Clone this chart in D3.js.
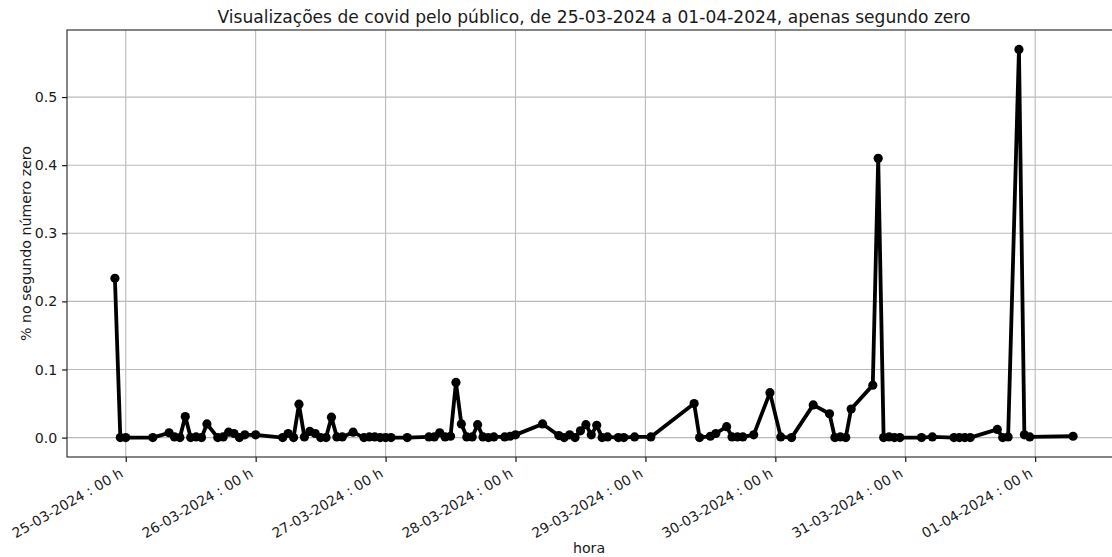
<!DOCTYPE html>
<html>
<head>
<meta charset="utf-8">
<script src="https://cdn.jsdelivr.net/npm/d3@7"></script>
<style>
  html, body { margin: 0; padding: 0; background: #fff; }
  svg { display: block; font-family: "DejaVu Sans", sans-serif; }
</style>
</head>
<body>
<svg id="chart" width="1112" height="557"></svg>
<script>
// Hourly timestamps (UTC) and share of views in second zero
const times = [
  "2024-03-24 22:00", "2024-03-24 23:00",
  "2024-03-25 00:00", "2024-03-25 05:00", "2024-03-25 08:00", "2024-03-25 09:00",
  "2024-03-25 10:00", "2024-03-25 11:00", "2024-03-25 12:00", "2024-03-25 13:00",
  "2024-03-25 14:00", "2024-03-25 15:00", "2024-03-25 17:00", "2024-03-25 18:00",
  "2024-03-25 19:00", "2024-03-25 20:00", "2024-03-25 21:00", "2024-03-25 22:00",
  "2024-03-26 00:00", "2024-03-26 05:00", "2024-03-26 06:00", "2024-03-26 07:00",
  "2024-03-26 08:00", "2024-03-26 09:00", "2024-03-26 10:00", "2024-03-26 11:00",
  "2024-03-26 12:00", "2024-03-26 13:00", "2024-03-26 14:00", "2024-03-26 15:00",
  "2024-03-26 16:00", "2024-03-26 18:00", "2024-03-26 20:00", "2024-03-26 21:00",
  "2024-03-26 22:00", "2024-03-26 23:00",
  "2024-03-27 00:00", "2024-03-27 01:00", "2024-03-27 04:00", "2024-03-27 08:00",
  "2024-03-27 09:00", "2024-03-27 10:00", "2024-03-27 11:00", "2024-03-27 12:00",
  "2024-03-27 13:00", "2024-03-27 14:00", "2024-03-27 15:00", "2024-03-27 16:00",
  "2024-03-27 17:00", "2024-03-27 18:00", "2024-03-27 19:00", "2024-03-27 20:00",
  "2024-03-27 22:00", "2024-03-27 23:00",
  "2024-03-28 00:00", "2024-03-28 05:00", "2024-03-28 08:00", "2024-03-28 09:00",
  "2024-03-28 10:00", "2024-03-28 11:00", "2024-03-28 12:00", "2024-03-28 13:00",
  "2024-03-28 14:00", "2024-03-28 15:00", "2024-03-28 16:00", "2024-03-28 17:00",
  "2024-03-28 19:00", "2024-03-28 20:00", "2024-03-28 22:00",
  "2024-03-29 01:00", "2024-03-29 09:00", "2024-03-29 10:00", "2024-03-29 12:00",
  "2024-03-29 13:00", "2024-03-29 15:00", "2024-03-29 16:00", "2024-03-29 17:00",
  "2024-03-29 18:00", "2024-03-29 20:00", "2024-03-29 23:00",
  "2024-03-30 01:00", "2024-03-30 03:00", "2024-03-30 07:00", "2024-03-30 10:00",
  "2024-03-30 11:00", "2024-03-30 12:00", "2024-03-30 13:00", "2024-03-30 14:00",
  "2024-03-30 18:00", "2024-03-30 19:00", "2024-03-30 20:00", "2024-03-30 21:00",
  "2024-03-30 22:00", "2024-03-30 23:00",
  "2024-03-31 03:00", "2024-03-31 05:00", "2024-03-31 09:00", "2024-03-31 10:00",
  "2024-03-31 11:00", "2024-03-31 12:00", "2024-03-31 17:00", "2024-03-31 18:00",
  "2024-03-31 19:00", "2024-03-31 21:00", "2024-03-31 22:00", "2024-03-31 23:00",
  "2024-04-01 07:00"
];

const shares = [
  0.234, 0.000,
  0.000, 0.000, 0.007, 0.001,
  0.000, 0.031, 0.000, 0.001,
  0.000, 0.020, 0.000, 0.001,
  0.008, 0.006, 0.000, 0.004,
  0.004, 0.000, 0.006, 0.000,
  0.049, 0.001, 0.009, 0.006,
  0.000, 0.000, 0.030, 0.001,
  0.001, 0.008, 0.000, 0.001,
  0.001, 0.000,
  0.000, 0.000, 0.000, 0.001,
  0.001, 0.007, 0.001, 0.002,
  0.081, 0.020, 0.001, 0.001,
  0.019, 0.001, 0.000, 0.001,
  0.001, 0.002,
  0.004, 0.020, 0.003, 0.000,
  0.004, 0.000, 0.010, 0.019,
  0.004, 0.018, 0.000, 0.001,
  0.000, 0.000, 0.001,
  0.001, 0.050, 0.000, 0.002,
  0.006, 0.016, 0.001, 0.001,
  0.001, 0.004, 0.066,
  0.001, 0.000, 0.048, 0.035,
  0.000, 0.001, 0.000, 0.042,
  0.077, 0.410, 0.000, 0.001,
  0.000, 0.000,
  0.000, 0.001, 0.000, 0.000,
  0.000, 0.000, 0.012, 0.000,
  0.001, 0.570, 0.004, 0.001,
  0.002
];

const yTickValues = [0.0, 0.1, 0.2, 0.3, 0.4, 0.5];

const titleText = "Visualizações de covid pelo público, de 25-03-2024 a 01-04-2024, apenas segundo zero";
const xLabelText = "hora";
const yLabelText = "% no segundo número zero";

const parse = d3.utcParse("%Y-%m-%d %H:%M");
const data = times.map((t, i) => ({ t: parse(t), v: shares[i] }));

const svg = d3.select("#chart");
const margin = { left: 67, top: 30, right: 1121, bottom: 457 };
const textColor = "#1a1a1a";

// Matplotlib-style 5% padding around the data extent
const tExt = d3.extent(data, d => d.t);
const tPad = (tExt[1] - tExt[0]) * 0.05;
const vExt = d3.extent(data, d => d.v);
const vPad = (vExt[1] - vExt[0]) * 0.05;

const x = d3.scaleUtc()
  .domain([new Date(+tExt[0] - tPad), new Date(+tExt[1] + tPad)])
  .range([margin.left, margin.right]);
const y = d3.scaleLinear()
  .domain([vExt[0] - vPad, vExt[1] + vPad])
  .range([margin.bottom, margin.top]);

const dayTicks = d3.utcDay.range(d3.utcDay.ceil(x.domain()[0]), x.domain()[1]);
const fmt = d3.utcFormat("%d-%m-%Y : %H h");

// Grid
const grid = svg.append("g").attr("stroke", "#b0b0b0").attr("stroke-width", 1.1).attr("opacity", 0.85);
grid.selectAll("line.gx").data(dayTicks).join("line")
  .attr("x1", d => x(d)).attr("x2", d => x(d))
  .attr("y1", margin.top).attr("y2", margin.bottom);
grid.selectAll("line.gy").data(yTickValues).join("line")
  .attr("x1", margin.left).attr("x2", margin.right)
  .attr("y1", d => y(d)).attr("y2", d => y(d));

// Axes
const xAxis = svg.append("g")
  .attr("transform", `translate(0,${margin.bottom})`)
  .call(d3.axisBottom(x).tickValues(dayTicks).tickFormat(fmt).tickSize(4.9).tickPadding(3.5));
xAxis.select(".domain").remove();
xAxis.selectAll(".tick line").attr("stroke", "#000").attr("stroke-width", 1.1);
xAxis.selectAll(".tick text")
  .attr("font-family", "DejaVu Sans")
  .attr("font-size", 13.9)
  .attr("fill", textColor)
  .attr("text-anchor", "end")
  .attr("dy", null)
  .attr("y", null)
  .attr("transform", "translate(-2,19) rotate(-30)");

const yAxis = svg.append("g")
  .attr("transform", `translate(${margin.left},0)`)
  .call(d3.axisLeft(y).tickValues(yTickValues).tickFormat(d3.format(".1f")).tickSize(4.9).tickPadding(4.9));
yAxis.select(".domain").remove();
yAxis.selectAll(".tick line").attr("stroke", "#000").attr("stroke-width", 1.1);
yAxis.selectAll(".tick text")
  .attr("font-family", "DejaVu Sans")
  .attr("font-size", 14.2)
  .attr("fill", textColor);

// Frame
svg.append("rect")
  .attr("x", margin.left).attr("y", margin.top)
  .attr("width", margin.right - margin.left).attr("height", margin.bottom - margin.top)
  .attr("fill", "none").attr("stroke", "#222").attr("stroke-width", 1.1);

// Series
const line = d3.line().x(d => x(d.t)).y(d => y(d.v));
svg.append("path").datum(data)
  .attr("d", line)
  .attr("fill", "none")
  .attr("stroke", "#000")
  .attr("stroke-width", 3.8)
  .attr("stroke-linejoin", "round");
svg.append("g").selectAll("circle").data(data).join("circle")
  .attr("cx", d => x(d.t)).attr("cy", d => y(d.v))
  .attr("r", 4.6).attr("fill", "#000");

// Labels
svg.append("text")
  .attr("x", (margin.left + margin.right) / 2).attr("y", 23)
  .attr("text-anchor", "middle")
  .attr("font-size", 17.1).attr("fill", textColor)
  .text(titleText);
svg.append("text")
  .attr("x", (margin.left + margin.right) / 2 - 5).attr("y", 553)
  .attr("text-anchor", "middle")
  .attr("font-size", 14.2).attr("fill", textColor)
  .text(xLabelText);
svg.append("text")
  .attr("transform", `translate(31,${(margin.top + margin.bottom) / 2}) rotate(-90)`)
  .attr("text-anchor", "middle")
  .attr("font-size", 14.2).attr("fill", textColor)
  .text(yLabelText);
</script>
</body>
</html>
